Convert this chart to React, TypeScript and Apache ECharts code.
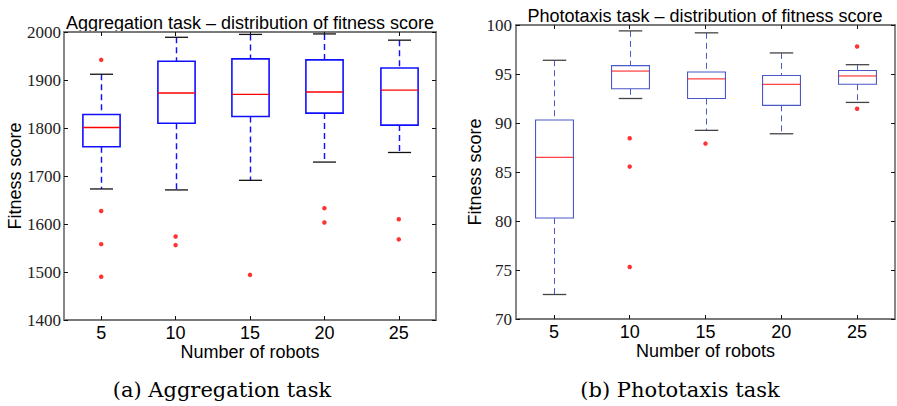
import React, { useEffect, useRef } from "react";
import * as echarts from "echarts";

// ---------- Data ----------
const robotCounts = ["5", "10", "15", "20", "25"];

// Aggregation task
const aggLow = [1673, 1671, 1691, 1729, 1749];
const aggQ1 = [1761, 1810, 1824, 1831, 1806];
const aggMedian = [1801, 1873, 1870, 1875, 1879];
const aggQ3 = [1828, 1939, 1944, 1942, 1925];
const aggHigh = [1912, 1989, 1995, 1996, 1983];
const aggOutliers = [
  [1942, 1627, 1558, 1490],
  [1574, 1556],
  [1494],
  [1633, 1603],
  [1610, 1568],
];
const aggTicks = [1400, 2000, 100]; // min, max, interval

// Phototaxis task
const phoLow = [72.5, 92.5, 89.25, 88.9, 92.1];
const phoQ1 = [80.3, 93.5, 92.5, 91.8, 93.95];
const phoMedian = [86.5, 95.3, 94.5, 93.95, 94.8];
const phoQ3 = [90.3, 95.85, 95.2, 94.85, 95.35];
const phoHigh = [96.4, 99.4, 99.2, 97.15, 95.95];
const phoOutliers = [
  [],
  [88.45, 85.55, 75.3],
  [87.9],
  [],
  [97.8, 91.45],
];
const phoTicks = [70, 100, 5];

const TICK_SERIF = "Liberation Serif";
const CAPTION_SERIF = "DejaVu Serif";
const SANS = "Liberation Sans";

type BoxStyle = { box: string; boxWidth: number; cap: string };

function boxData(low: number[], q1: number[], med: number[], q3: number[], high: number[]) {
  return low.map((_, i) => [i, low[i], q1[i], med[i], q3[i], high[i]]);
}
function outlierData(out: number[][]) {
  const res: number[][] = [];
  out.forEach((vals, i) => vals.forEach((v) => res.push([i, v])));
  return res;
}

function makeRenderItem(st: BoxStyle) {
  return (params: any, api: any) => {
    const idx = api.value(0);
    const lo = api.coord([idx, api.value(1)]);
    const q1 = api.coord([idx, api.value(2)]);
    const med = api.coord([idx, api.value(3)]);
    const q3 = api.coord([idx, api.value(4)]);
    const hi = api.coord([idx, api.value(5)]);
    const band = api.size([1, 0])[0];
    const bw = band * 0.5;
    const cw = band * 0.31;
    const x = Math.round(lo[0]) + 0.5;
    const dash = { stroke: st.box, lineWidth: st.boxWidth * 0.9, lineDash: [6, 4] };
    return {
      type: "group",
      children: [
        { type: "line", shape: { x1: x, y1: hi[1], x2: x, y2: q3[1] }, style: dash },
        { type: "line", shape: { x1: x, y1: q1[1], x2: x, y2: lo[1] }, style: dash },
        { type: "line", shape: { x1: x - cw / 2, y1: hi[1], x2: x + cw / 2, y2: hi[1] }, style: { stroke: st.cap, lineWidth: 1.3 } },
        { type: "line", shape: { x1: x - cw / 2, y1: lo[1], x2: x + cw / 2, y2: lo[1] }, style: { stroke: st.cap, lineWidth: 1.3 } },
        {
          type: "rect",
          shape: { x: x - bw / 2, y: q3[1], width: bw, height: q1[1] - q3[1] },
          style: { fill: "none", stroke: st.box, lineWidth: st.boxWidth },
        },
        { type: "line", shape: { x1: x - bw / 2, y1: med[1], x2: x + bw / 2, y2: med[1] }, style: { stroke: "#ff0000", lineWidth: st.boxWidth * 0.85 } },
      ],
    };
  };
}

const axisLineStyle = { color: "#7a7a7a", width: 1.8 };
const tickStyle = { show: true, inside: true, length: 4, lineStyle: { color: "#111", width: 1 } };

function xAxes(gridIndex: number) {
  return [
    {
      type: "category",
      gridIndex,
      data: robotCounts,
      position: "bottom",
      name: "Number of robots",
      nameLocation: "middle",
      nameGap: 23,
      nameMoveOverlap: false,
      nameTextStyle: { fontFamily: SANS, fontSize: 18, color: "#000" },
      axisLine: { lineStyle: axisLineStyle },
      axisTick: { ...tickStyle, alignWithLabel: true, interval: 0 },
      axisLabel: { fontFamily: SANS, fontSize: 18, color: "#000", margin: 4, interval: 0 },
      splitLine: { show: false },
    },
    {
      type: "category",
      gridIndex,
      data: robotCounts,
      position: "top",
      axisLine: { lineStyle: axisLineStyle },
      axisTick: { ...tickStyle, alignWithLabel: true, interval: 0 },
      axisLabel: { show: false },
      splitLine: { show: false },
    },
  ];
}

function yAxes(gridIndex: number, ticks: number[], nameGap: number, margin: number) {
  return [
    {
      type: "value",
      gridIndex,
      min: ticks[0],
      max: ticks[1],
      interval: ticks[2],
      position: "left",
      name: "Fitness score",
      nameLocation: "middle",
      nameRotate: 90,
      nameGap,
      nameMoveOverlap: false,
      nameTextStyle: { fontFamily: SANS, fontSize: 18, color: "#000" },
      axisLine: { show: true, lineStyle: axisLineStyle },
      axisTick: tickStyle,
      axisLabel: {
        show: true,
        margin,
        formatter: (v: number) => String(v),
        fontFamily: TICK_SERIF,
        fontSize: 17,
        color: "#222",
      },
      splitLine: { show: false },
    },
    {
      type: "value",
      gridIndex,
      min: ticks[0],
      max: ticks[1],
      interval: ticks[2],
      position: "right",
      axisLine: { show: true, lineStyle: axisLineStyle },
      axisTick: tickStyle,
      axisLabel: { show: false },
      splitLine: { show: false },
    },
  ];
}

export default function App() {
  const ref = useRef<HTMLDivElement>(null);
  useEffect(() => {
    if (!ref.current) return;
    const chart = echarts.init(ref.current, null, { renderer: "svg" });
    const aggStyle: BoxStyle = { box: "#1010ff", boxWidth: 1.6, cap: "#111" };
    const phoStyle: BoxStyle = { box: "#4a58c8", boxWidth: 1.1, cap: "#444" };
    chart.setOption({
      animation: false,
      backgroundColor: "#fff",
      grid: [
        { left: 64, top: 32, width: 372, height: 288 },
        { left: 516, top: 25, width: 379, height: 294 },
      ],
      xAxis: [...xAxes(0), ...xAxes(1)],
      yAxis: [...yAxes(0, aggTicks, 40, 3), ...yAxes(1, phoTicks, 32, 4)],
      series: [
        {
          type: "custom",
          xAxisIndex: 0,
          yAxisIndex: 0,
          renderItem: makeRenderItem(aggStyle),
          data: boxData(aggLow, aggQ1, aggMedian, aggQ3, aggHigh),
          encode: { x: 0, y: [1, 2, 3, 4, 5] },
          clip: false,
        },
        {
          type: "scatter",
          xAxisIndex: 0,
          yAxisIndex: 0,
          symbolSize: 4.5,
          itemStyle: { color: "#ff0000" },
          data: outlierData(aggOutliers),
        },
        {
          type: "custom",
          xAxisIndex: 2,
          yAxisIndex: 2,
          renderItem: makeRenderItem(phoStyle),
          data: boxData(phoLow, phoQ1, phoMedian, phoQ3, phoHigh),
          encode: { x: 0, y: [1, 2, 3, 4, 5] },
          clip: false,
        },
        {
          type: "scatter",
          xAxisIndex: 2,
          yAxisIndex: 2,
          symbolSize: 4.5,
          itemStyle: { color: "#ff0000" },
          data: outlierData(phoOutliers),
        },
      ],
      graphic: [
        {
          type: "text",
          x: 250,
          y: 32,
          style: { text: "Aggregation task – distribution of fitness score", font: `18px ${SANS}`, fill: "#000", textAlign: "center", textVerticalAlign: "bottom" },
        },
        {
          type: "text",
          x: 705,
          y: 25,
          style: { text: "Phototaxis task – distribution of fitness score", font: `18px ${SANS}`, fill: "#000", textAlign: "center", textVerticalAlign: "bottom" },
        },
        {
          type: "text",
          x: 222,
          y: 390,
          style: { text: "(a) Aggregation task", font: `21px ${CAPTION_SERIF}`, fill: "#000", textAlign: "center", textVerticalAlign: "middle" },
        },
        {
          type: "text",
          x: 680,
          y: 390,
          style: { text: "(b) Phototaxis task", font: `21px ${CAPTION_SERIF}`, fill: "#000", textAlign: "center", textVerticalAlign: "middle" },
        },
      ],
    });
    return () => chart.dispose();
  }, []);
  return <div ref={ref} style={{ position: "fixed", left: 0, top: 0, width: 897, height: 406 }} />;
}
